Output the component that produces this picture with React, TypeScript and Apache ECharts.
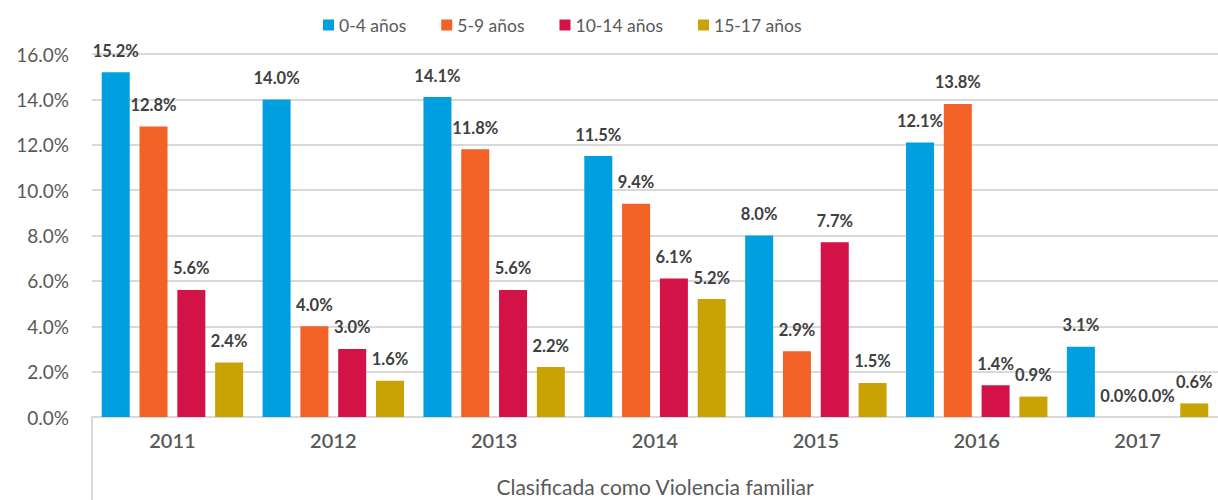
import React, { useEffect, useRef } from "react";
import * as echarts from "echarts";

const categories = ["2011", "2012", "2013", "2014", "2015", "2016", "2017"];
const seriesNames = ["0-4 años", "5-9 años", "10-14 años", "15-17 años"];
const age0_4 = [15.2, 14.0, 14.1, 11.5, 8.0, 12.1, 3.1];
const age5_9 = [12.8, 4.0, 11.8, 9.4, 2.9, 13.8, 0.0];
const age10_14 = [5.6, 3.0, 5.6, 6.1, 7.7, 1.4, 0.0];
const age15_17 = [2.4, 1.6, 2.2, 5.2, 1.5, 0.9, 0.6];
const colors = ["#009fdf", "#f26125", "#d31247", "#c9a204"];
const axisTitle = "Clasificada como Violencia familiar";

const FONT = "Lato, 'Open Sans', sans-serif";

export default function App() {
  const ref = useRef<HTMLDivElement>(null);
  useEffect(() => {
    if (!ref.current) return;
    document.body.style.margin = "0";
    document.body.style.overflow = "hidden";
    const chart = echarts.init(ref.current, undefined, { renderer: "svg" });
    const gridLeft = 92;
    const gridBottom = 83;
    const values = [age0_4, age5_9, age10_14, age15_17];
    chart.setOption({
      animation: false,
      textStyle: { fontFamily: FONT },
      color: colors,
      legend: {
        data: seriesNames,
        top: 11,
        left: 318,
        itemWidth: 11,
        itemHeight: 11,
        itemGap: 35,
        icon: "rect",
        textStyle: { fontSize: 17.5, color: "#595959", fontFamily: FONT },
      },
      grid: {
        left: gridLeft,
        right: 0,
        top: 54,
        bottom: gridBottom,
        containLabel: false,
        outerBoundsMode: "none",
      },
      xAxis: {
        type: "category",
        data: categories,
        axisLine: { show: true, lineStyle: { color: "#d9d9d9", width: 2 } },
        axisTick: { show: false },
        axisLabel: { fontSize: 20, color: "#595959", fontWeight: 600, margin: 13, fontFamily: FONT },
        name: axisTitle,
        nameLocation: "middle",
        nameGap: 59,
        nameTextStyle: { fontSize: 21, color: "#595959", fontFamily: FONT },
      },
      yAxis: {
        type: "value",
        min: 0,
        max: 16,
        interval: 2,
        axisLine: { show: false },
        axisTick: { show: false },
        splitLine: { lineStyle: { color: "#d9d9d9", width: 2 } },
        axisLabel: {
          fontSize: 19,
          color: "#595959",
          margin: 23,
          fontFamily: FONT,
          formatter: (v: number) => v.toFixed(1) + "%",
        },
      },
      graphic: [
        {
          type: "line",
          shape: { x1: gridLeft, y1: 500 - gridBottom, x2: gridLeft, y2: 500 },
          style: { stroke: "#d9d9d9", lineWidth: 2 },
          silent: true,
        },
      ],
      series: values.map((d, i) => ({
        name: seriesNames[i],
        type: "bar",
        data: d,
        barWidth: 28,
        barGap: "35%",
        itemStyle: { color: colors[i] },
        label: {
          show: true,
          position: "top",
          distance: 13,
          fontSize: 16.5,
          fontWeight: "bold",
          color: "#404040",
          fontFamily: FONT,
          formatter: (p: any) => Number(p.value).toFixed(1) + "%",
        },
      })),
    });
    return () => chart.dispose();
  }, []);
  return <div ref={ref} style={{ width: 1218, height: 500 }} />;
}
